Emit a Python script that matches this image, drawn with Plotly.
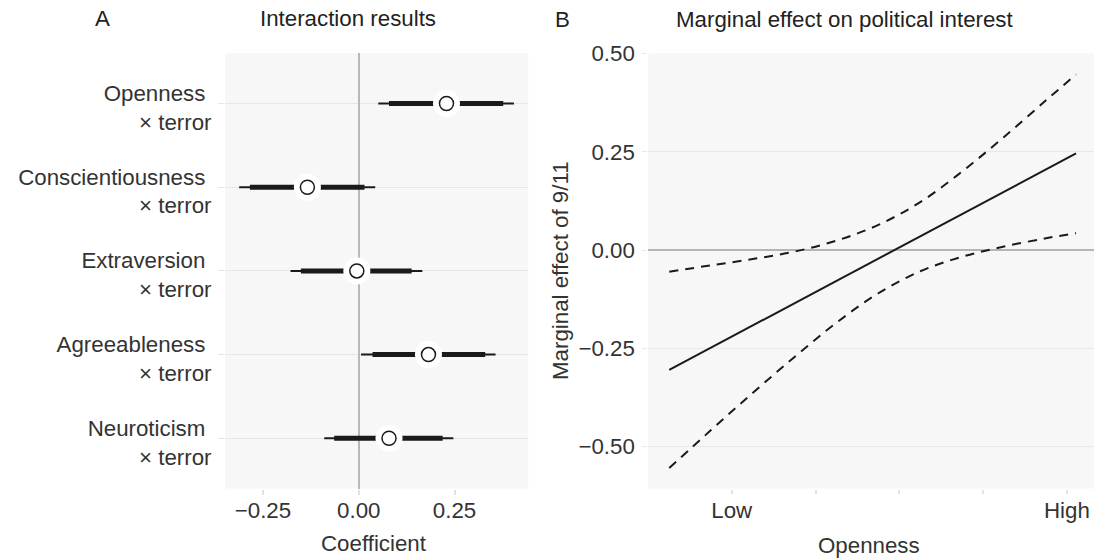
import plotly.graph_objects as go

# ---------------- Panel A data ----------------
categories = ["Openness", "Conscientiousness", "Extraversion", "Agreeableness", "Neuroticism"]
coef = [0.229, -0.134, -0.005, 0.182, 0.079]
lo95 = [0.051, -0.312, -0.178, 0.006, -0.090]
hi95 = [0.405, 0.043, 0.166, 0.357, 0.247]
lo90 = [0.079, -0.284, -0.151, 0.036, -0.064]
hi90 = [0.377, 0.015, 0.138, 0.330, 0.219]
a_ticks = [-0.25, 0.0, 0.25]
a_ticktext = ["\u22120.25", "0.00", "0.25"]

# ---------------- Panel B data ----------------
openness = [0.255, 0.75, 1.25, 1.75, 2.25, 2.75, 3.25, 3.75, 4.25, 4.75, 5.109]
effect = [-0.305, -0.249, -0.192, -0.135, -0.079, -0.022, 0.035, 0.092, 0.148, 0.205, 0.246]
upper = [-0.055, -0.039, -0.023, -0.004, 0.024, 0.064, 0.122, 0.200, 0.288, 0.381, 0.447]
lower = [-0.555, -0.459, -0.364, -0.272, -0.185, -0.110, -0.054, -0.017, 0.009, 0.030, 0.043]
b_xticks = [1, 2, 3, 4, 5]
b_xticktext = ["Low", "", "", "", "High"]
b_yticks = [-0.5, -0.25, 0.0, 0.25, 0.5]
b_yticktext = ["\u22120.50", "\u22120.25", "0.00", "0.25", "0.50"]

W, H = 1094, 558
FONT = "Liberation Sans, Arial, Helvetica, sans-serif"
FS = 22.3
TXT = "#333333"
INK = "#1a1a1a"

def px(x):
    return x / W

def py(y):
    return 1 - y / H

fig = go.Figure()

rows = list(range(len(categories)))

# thin (outer) interval lines
tx, ty = [], []
for i in rows:
    tx += [lo95[i], hi95[i], None]
    ty += [i, i, None]
fig.add_trace(go.Scatter(x=tx, y=ty, mode="lines", line=dict(color=INK, width=2),
                         xaxis="x", yaxis="y", hoverinfo="skip", showlegend=False))
# thick (inner) interval lines
kx, ky = [], []
for i in rows:
    kx += [lo90[i], hi90[i], None]
    ky += [i, i, None]
fig.add_trace(go.Scatter(x=kx, y=ky, mode="lines", line=dict(color=INK, width=5),
                         xaxis="x", yaxis="y", hoverinfo="skip", showlegend=False))
# white halo
fig.add_trace(go.Scatter(x=coef, y=rows, mode="markers",
                         marker=dict(size=27, color="white", line=dict(width=0)),
                         xaxis="x", yaxis="y", hoverinfo="skip", showlegend=False))
# point estimate
fig.add_trace(go.Scatter(x=coef, y=rows, mode="markers",
                         marker=dict(size=14, color="white", line=dict(width=1.5, color=INK)),
                         xaxis="x", yaxis="y", showlegend=False))

# Panel B lines
fig.add_trace(go.Scatter(x=openness, y=upper, mode="lines",
                         line=dict(color=INK, width=2, dash="9px,7px", shape="spline"),
                         xaxis="x2", yaxis="y2", showlegend=False))
fig.add_trace(go.Scatter(x=openness, y=lower, mode="lines",
                         line=dict(color=INK, width=2, dash="9px,7px", shape="spline"),
                         xaxis="x2", yaxis="y2", showlegend=False))
fig.add_trace(go.Scatter(x=openness, y=effect, mode="lines",
                         line=dict(color=INK, width=2),
                         xaxis="x2", yaxis="y2", showlegend=False))

ydom = [py(488.5), py(53.3)]
ylabels = [c + "\u00a0<br>\u00d7 terror" for c in categories]

fig.update_layout(
    width=W, height=H,
    margin=dict(l=0, r=0, t=0, b=0, autoexpand=False),
    paper_bgcolor="white",
    plot_bgcolor="#f7f7f7",
    font=dict(family=FONT, size=FS, color=TXT),
    xaxis=dict(domain=[px(225), px(528.3)], range=[-0.349, 0.4425],
               tickvals=a_ticks, ticktext=a_ticktext, showgrid=False,
               zeroline=True, zerolinecolor="#b8b8b8", zerolinewidth=1.7,
               ticks="outside", ticklen=5, tickwidth=1.5, tickcolor="#e2e2e2",
               showline=False, anchor="y", ticklabelstandoff=-3,
               tickfont=dict(size=FS, color=TXT)),
    yaxis=dict(domain=ydom, range=[4.6, -0.6], tickvals=rows, ticktext=ylabels,
               showgrid=True, gridcolor="#e6e6e6", gridwidth=1, zeroline=False,
               ticks="outside", ticklen=6, tickwidth=1, tickcolor="#e6e6e6",
               showline=False, anchor="x", ticklabelstandoff=2, ticklabelshift=-4,
               tickfont=dict(size=FS, color=TXT)),
    xaxis2=dict(domain=[px(648.3), 1.0], range=[0.005, 5.323],
                tickvals=b_xticks, ticktext=b_xticktext, showgrid=False,
                zeroline=False, ticks="outside", ticklen=4, tickwidth=1.5,
                tickcolor="#e2e2e2", showline=False, anchor="y2", ticklabelstandoff=-2,
                tickfont=dict(size=FS, color=TXT)),
    yaxis2=dict(domain=ydom, range=[-0.607, 0.5008], tickvals=b_yticks, ticktext=b_yticktext,
                showgrid=True, gridcolor="#e8e8e8", gridwidth=1,
                zeroline=True, zerolinecolor="#b5b5b5", zerolinewidth=1.7,
                ticks="outside", ticklen=5, tickwidth=1, tickcolor="#e8e8e8",
                showline=False, anchor="x2", ticklabelstandoff=3,
                tickfont=dict(size=FS, color=TXT)),
)

ann = [
    dict(text="A", x=px(102), y=py(18.6), color="#222222"),
    dict(text="Interaction results", x=px(348.4), y=py(18.6), color="#222222"),
    dict(text="B", x=px(562.5), y=py(19.5), color="#222222"),
    dict(text="Marginal effect on political interest", x=px(844.7), y=py(19.5), color="#222222"),
    dict(text="Coefficient", x=px(373.8), y=py(543), color=TXT),
    dict(text="Openness", x=px(869.5), y=py(545), color=TXT),
]
for a in ann:
    fig.add_annotation(text=a["text"], x=a["x"], y=a["y"], xref="paper", yref="paper",
                       xanchor="center", yanchor="middle", showarrow=False,
                       font=dict(family=FONT, size=FS, color=a["color"]))
fig.add_annotation(text="Marginal effect of 9/11", x=px(560), y=py(271), xref="paper", yref="paper",
                   xanchor="center", yanchor="middle", showarrow=False, textangle=-90,
                   font=dict(family=FONT, size=FS, color=TXT))

# remove the browser's default 8px body margin so the figure fills the window exactly
fig.write_html("out.html",
               config={"displayModeBar": False},
               post_script="document.body.style.margin='0';"
                           "document.documentElement.style.overflow='hidden';")
